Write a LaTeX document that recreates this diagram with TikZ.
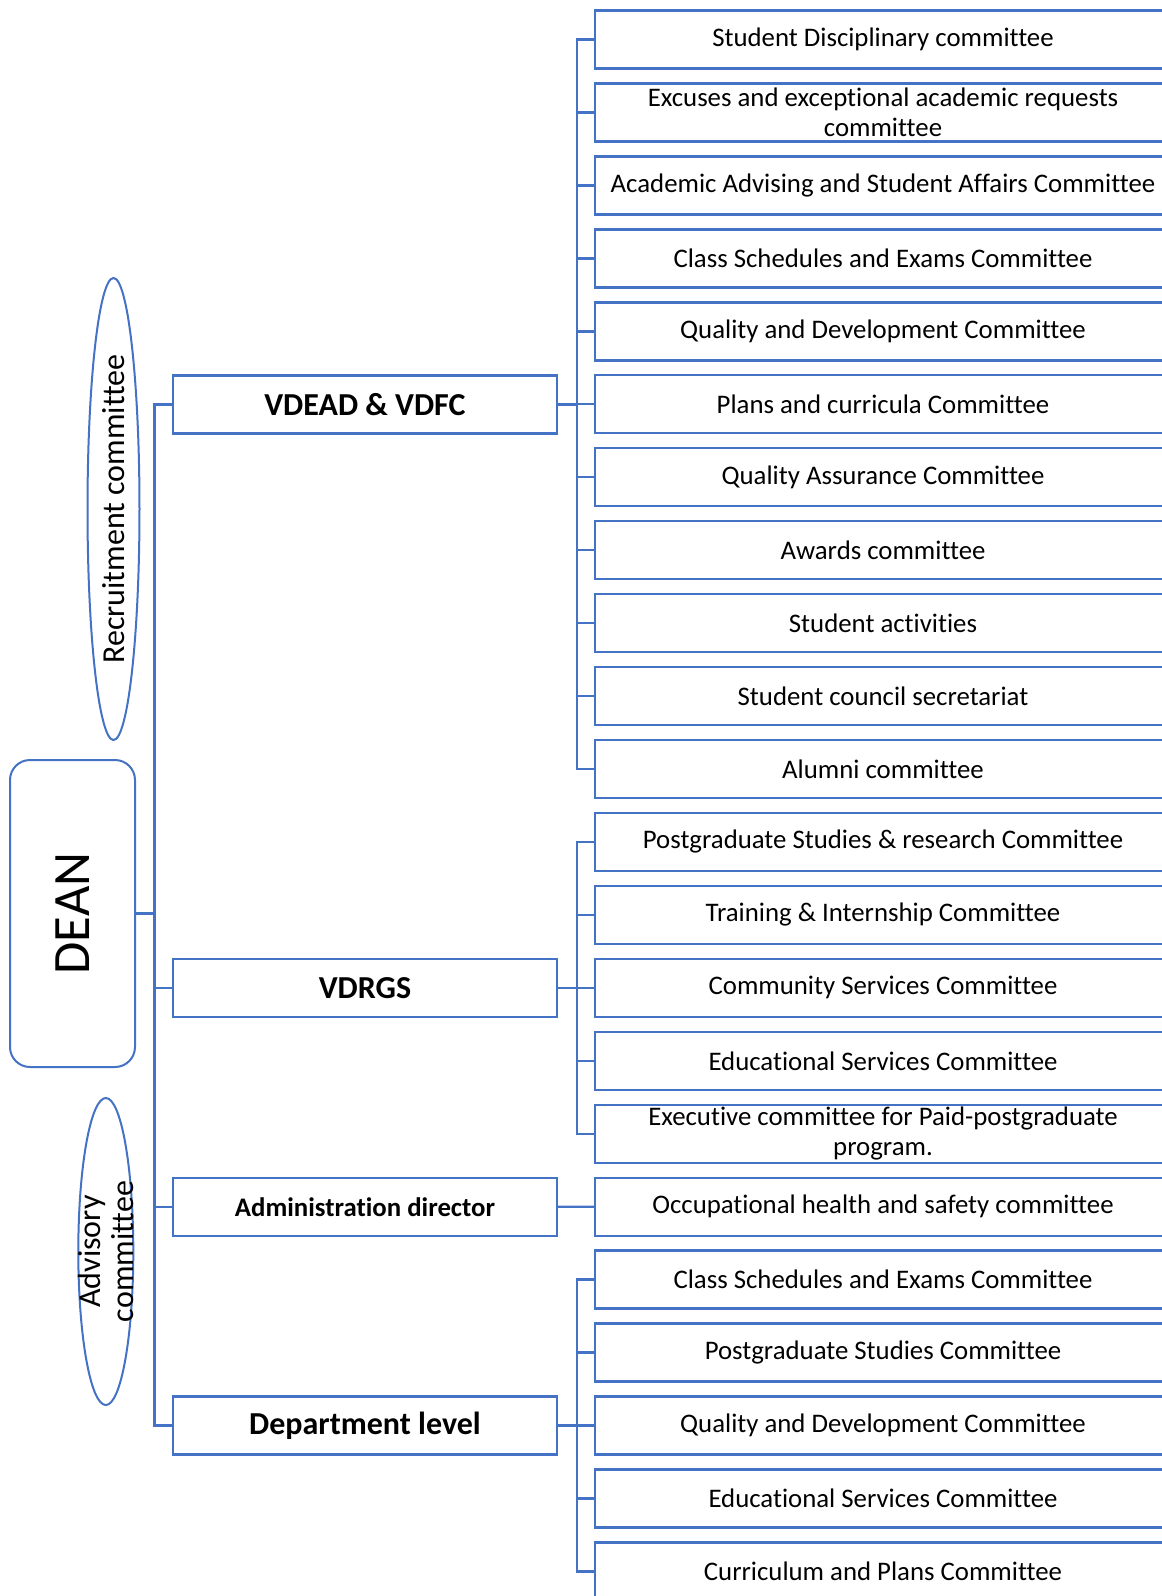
\documentclass[tikz,border=0pt]{standalone}
\usepackage{fontspec}
\setmainfont{Carlito}[Ligatures=NoCommon]
\usetikzlibrary{positioning,shapes.geometric}
\definecolor{orgblue}{HTML}{4472C4}

\begin{document}
\begin{tikzpicture}[x=1pt,y=-1pt,
		comm/.style={draw=orgblue,line width=2.4pt,minimum width=576pt,minimum height=58pt,
			inner sep=0pt,align=center,font=\fontsize{26.8}{30}\selectfont},
		head/.style={draw=orgblue,line width=2.4pt,minimum width=384pt,minimum height=58pt,
			inner sep=0pt,font=\fontsize{32}{36}\selectfont\bfseries},
		link/.style={draw=orgblue,line width=2.4pt},
		bubble/.style={draw=orgblue,line width=2pt,ellipse,inner sep=0pt,rotate=90}]
		\path[use as bounding box,clip] (0,0) rectangle (1162,1596);

		% committees, one per row
		\foreach \txt [count=\i from 0] in {Student Disciplinary committee,
				Excuses and exceptional academic requests\\committee,
				Academic Advising and Student Affairs Committee,
				Class Schedules and Exams Committee,
				Quality and Development Committee,
				Plans and curricula Committee,
				Quality Assurance Committee,
				Awards committee,
				Student activities,
				Student council secretariat,
				Alumni committee,
				Postgraduate Studies \& research Committee,
				Training \& Internship Committee,
				Community Services Committee,
				Educational Services Committee,
				Executive committee for Paid-postgraduate\\program.,
				Occupational health and safety committee,
				Class Schedules and Exams Committee,
				Postgraduate Studies Committee,
				Quality and Development Committee,
				Educational Services Committee,
				Curriculum and Plans Committee}
			\node[comm] (c\i) at (883,39.5+\i*72.95) {\txt};

		% vice deans and others
		\node[head] (vd) at (365,404.3) {VDEAD \& VDFC};
		\node[head] (vr) at (365,987.9) {VDRGS};
		\node[head,font=\fontsize{26.8}{30}\selectfont\bfseries] (ad) at (365,1206.7) {Administration director};
		\node[head] (dl) at (365,1425.6) {Department level};

		\node[draw=orgblue,line width=2pt,rounded corners=20pt,rotate=90,minimum width=307pt,
			minimum height=125pt,font=\fontsize{52.5}{56}\selectfont] (dean) at (72.5,913.5) {DEAN};

		\node[bubble,minimum width=462pt,minimum height=52pt,
			font=\fontsize{32}{34}\selectfont] (rec) at (113.5,509) {Recruitment committee};
		\node[bubble,minimum width=307pt,minimum height=55pt] (adv) at (105.8,1251.5) {};
		\node[rotate=90,align=center,inner sep=0pt,
			font=\fontsize{32}{32.5}\selectfont] (advtxt) at (adv.center) {Advisory\\committee};

		% connectors
		\foreach \h in {vd,vr,ad,dl}
			\draw[link] (dean.south) -- ++(18.6,0) |- (\h.west);
		\foreach \i in {0,...,10}
			\draw[link] (vd.east) -- ++(18.5,0) |- (c\i.west);
		\foreach \i in {11,...,15}
			\draw[link] (vr.east) -- ++(18.5,0) |- (c\i.west);
		\draw[link] (ad.east) -- (c16.west);
		\foreach \i in {17,...,21}
			\draw[link] (dl.east) -- ++(18.5,0) |- (c\i.west);
	\end{tikzpicture}
\end{document}
